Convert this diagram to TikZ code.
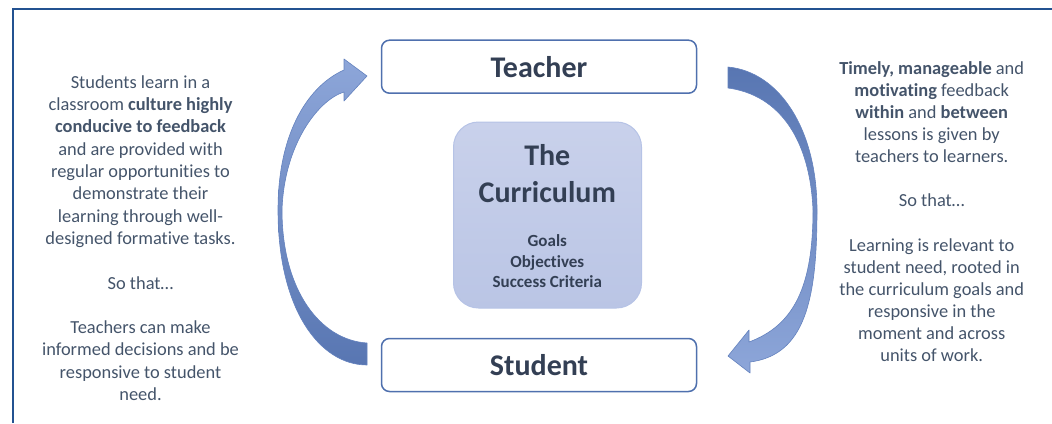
\documentclass[tikz,border=0pt]{standalone}
\usepackage{fontspec}
\setmainfont{Carlito}[Ligatures=CommonOff]
\usetikzlibrary{shadings}

\definecolor{txt}{HTML}{44546A}
\definecolor{headtxt}{HTML}{333F54}
\definecolor{boxline}{HTML}{4F70AE}
\definecolor{framecol}{HTML}{235291}
\definecolor{currfillA}{HTML}{C9D1EB}
\definecolor{currfillB}{HTML}{BAC5E5}
\definecolor{currline}{HTML}{B6C3E6}
\definecolor{arrdark}{HTML}{5876B2}
\definecolor{arrlight}{HTML}{8DA6D9}
\definecolor{arredge}{HTML}{6482BE}

\tikzset{
  body/.style={text=txt, inner sep=0pt, anchor=base},
  namebox/.style={draw=boxline, line width=1.5pt, fill=white, rounded corners=8pt,
    minimum width=315pt, minimum height=53pt, inner sep=0pt,
    text=headtxt, font=\bfseries\fontsize{30}{36}\selectfont,
    text height=21.6pt, text depth=0pt},
  currbox/.style={draw=currline, line width=1pt, top color=currfillA, bottom color=currfillB,
    rounded corners=25pt, minimum width=188pt, minimum height=186pt, inner sep=0pt},
  currtext/.style={text=headtxt, inner sep=0pt, anchor=base},
  bigarrow/.style={draw=arredge, line width=0.6pt, line join=round},
  framerule/.style={draw=framecol, line width=2.2pt}
}

\begin{document}
\begin{tikzpicture}[x=1pt,y=-1pt]
\useasboundingbox (0,0) rectangle (1052,423);

% outer frame (top and left rules)
\draw[framerule] (13,423) -- (13,9) -- (1052,9);

% curved arrow on the left: student -> teacher
\path[bigarrow, top color=arrlight, bottom color=arrdark]
  (367,365) .. controls (320,365) and (278,310) .. (278,210)
  .. controls (278,130) and (310,85) .. (344,70)
  -- (344,59) -- (367,76) -- (344,101) -- (344,92)
  .. controls (318,100) and (284,145) .. (282,210)
  .. controls (282,290) and (320,340) .. (367,343) -- cycle;

% curved arrow on the right: teacher -> student
\path[bigarrow, top color=arrdark, bottom color=arrlight]
  (728,67) .. controls (780,72) and (817,130) .. (817,210)
  .. controls (817,300) and (805,355) .. (750,362)
  -- (750,373) -- (728,356) -- (749,330) -- (749,342)
  .. controls (795,325) and (813,285) .. (813,210)
  .. controls (810,140) and (780,95) .. (728,88) -- cycle;

% role boxes
\node[namebox] (teacher) at (539,66.7) {Teacher};
\node[namebox] (student) at (539,365) {Student};

% central curriculum panel
\node[currbox] (curr) at (547.5,215) {};
\node[currtext, font=\bfseries\fontsize{30}{37.7}\selectfont] (currtitle) at (547.3,165)
  {\begin{tabular}[t]{@{}c@{}}The\\Curriculum\end{tabular}};
\node[currtext, font=\bfseries\fontsize{17}{20.5}\selectfont] (currlist) at (547.3,246.7)
  {\begin{tabular}[t]{@{}c@{}}Goals\\Objectives\\Success Criteria\end{tabular}};

% left-hand explanation
\node[body, font=\fontsize{18.4}{22.3}\selectfont] (lefttext) at (140.5,88.3)
  {\begin{tabular}[t]{@{}c@{}}
   Students learn in a\\
   classroom \textbf{culture highly}\\
   \textbf{conducive to feedback}\\
   and are provided with\\
   regular opportunities to\\
   demonstrate their\\
   learning through well-\\
   designed formative tasks.\\
   \\
   So that…\\
   \\
   Teachers can make\\
   informed decisions and be\\
   responsive to student\\
   need.
   \end{tabular}};

% right-hand explanation
\node[body, font=\fontsize{18.4}{22.15}\selectfont] (righttext) at (931.7,74)
  {\begin{tabular}[t]{@{}c@{}}
   \textbf{Timely, manageable} and\\
   \textbf{motivating} feedback\\
   \textbf{within} and \textbf{between}\\
   lessons is given by\\
   teachers to learners.\\
   \\
   So that…\\
   \\
   Learning is relevant to\\
   student need, rooted in\\
   the curriculum goals and\\
   responsive in the\\
   moment and across\\
   units of work.
   \end{tabular}};
\end{tikzpicture}
\end{document}
